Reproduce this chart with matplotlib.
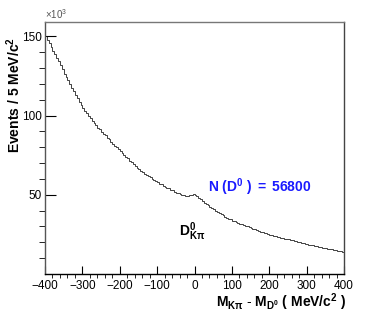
import numpy as np
import matplotlib.pyplot as plt

plt.rcParams['font.family'] = ['Liberation Sans', 'DejaVu Sans']
plt.rcParams['mathtext.fontset'] = 'custom'
plt.rcParams['mathtext.rm'] = 'Liberation Sans'
plt.rcParams['mathtext.bf'] = 'Liberation Sans:bold'
plt.rcParams['mathtext.it'] = 'Liberation Sans:italic'

# events per 5 MeV bin (x10^3), from -400 to 400 MeV
bin_edges = np.arange(-400, 401, 5)
counts = [
    150.2, 147.9, 145.5, 143.4, 140.9, 138.7, 136.2, 134.1, 131.6, 129.4,
    126.5, 124.0, 122.1, 119.7, 117.6, 115.2, 113.1, 110.8, 108.7, 106.6,
    104.6, 102.9, 101.4, 99.6, 98.2, 96.6, 95.2, 93.9, 92.4, 91.2,
    89.9, 88.5, 87.4, 86.0, 84.9, 83.5, 82.3, 81.0, 79.9, 78.6,
    77.5, 76.2, 75.2, 74.0, 72.9, 71.6, 70.6, 69.4, 68.4, 67.1,
    66.1, 65.1, 64.4, 63.4, 62.7, 61.7, 61.0, 60.0, 59.3, 58.4,
    57.8, 57.0, 56.5, 55.8, 55.2, 54.5, 54.0, 53.2, 52.7, 52.0,
    51.3, 50.9, 50.5, 50.1, 49.7, 49.4, 49.3, 49.6, 50.1, 50.3,
    50.0, 49.2, 48.1, 47.1, 46.1, 45.1, 44.2, 43.3, 42.5, 41.7,
    40.8, 40.0, 39.2, 38.5, 37.7, 37.0, 36.2, 35.6, 35.0, 34.4,
    33.7, 33.2, 32.8, 32.3, 31.8, 31.3, 30.9, 30.4, 30.0, 29.6,
    28.9, 28.5, 28.1, 27.6, 27.2, 26.8, 26.4, 26.0, 25.6, 25.2,
    24.8, 24.4, 24.2, 23.8, 23.5, 23.2, 22.9, 22.6, 22.3, 22.0,
    21.8, 21.5, 21.2, 20.9, 20.6, 20.2, 20.0, 19.6, 19.4, 19.1,
    18.9, 18.6, 18.3, 18.0, 17.8, 17.5, 17.2, 17.0, 16.7, 16.5,
    16.2, 15.9, 15.7, 15.5, 15.2, 15.0, 14.8, 14.5, 14.3, 14.1,
]
x_ticks = [-400, -300, -200, -100, 0, 100, 200, 300, 400]
y_ticks = [50, 100, 150]

fig = plt.figure(figsize=(3.74, 3.16), dpi=100)
ax = fig.add_axes([45/374, 1-274/316, 299/374, 252/316])

ax.stairs(counts, bin_edges, color='#222222', linewidth=0.6)

ax.set_xlim(-400, 400)
ax.set_ylim(0, 159)
ax.set_xticks(x_ticks)
ax.set_xticks(np.arange(-400, 401, 20), minor=True)
ax.set_yticks(y_ticks)
ax.set_yticks(np.arange(10, 159, 10), minor=True)
ax.tick_params(direction='in', labelsize=8.5, colors='black')
ax.tick_params(axis='x', which='major', length=6, width=0.8, pad=4)
ax.tick_params(axis='x', which='minor', length=3, width=0.6)
ax.tick_params(axis='y', which='major', length=8, width=0.8, pad=2)
ax.tick_params(axis='y', which='minor', length=4, width=0.6)
ax.tick_params(top=False, right=False, which='both')

ax.spines['bottom'].set_color('black')
ax.spines['left'].set_color('#555555')
ax.spines['top'].set_color('#777777')
ax.spines['right'].set_color('#444444')
for s in ax.spines.values():
    s.set_linewidth(1.0)

ax.text(0, 1.005, r'$\times10^{3}$', transform=ax.transAxes, fontsize=7,
        color='#555555', ha='left', va='bottom')

fig.text(14/374, 1-95/316, r'$\mathbf{Events\ /\ 5\ MeV/c^{2}}$', rotation=90,
         fontsize=10, ha='center', va='center')
fig.text(346/374, 1-302/316,
         r'$\mathbf{M_{Kπ}\ \text{-}\ M_{D^0}\ (\ MeV/c^{2}\ )}$',
         fontsize=10, ha='right', va='center')

ax.text(175, 55, r'$\mathbf{N\ (D^{0}\ )\ =\ 56800}$', color='#1a1aff',
        fontsize=10, ha='center', va='center')
ax.text(-5, 27, r'$\mathbf{D^{0}_{Kπ}}$', color='black', fontsize=10,
        ha='center', va='center')

fig.savefig('out.png', dpi=100)
